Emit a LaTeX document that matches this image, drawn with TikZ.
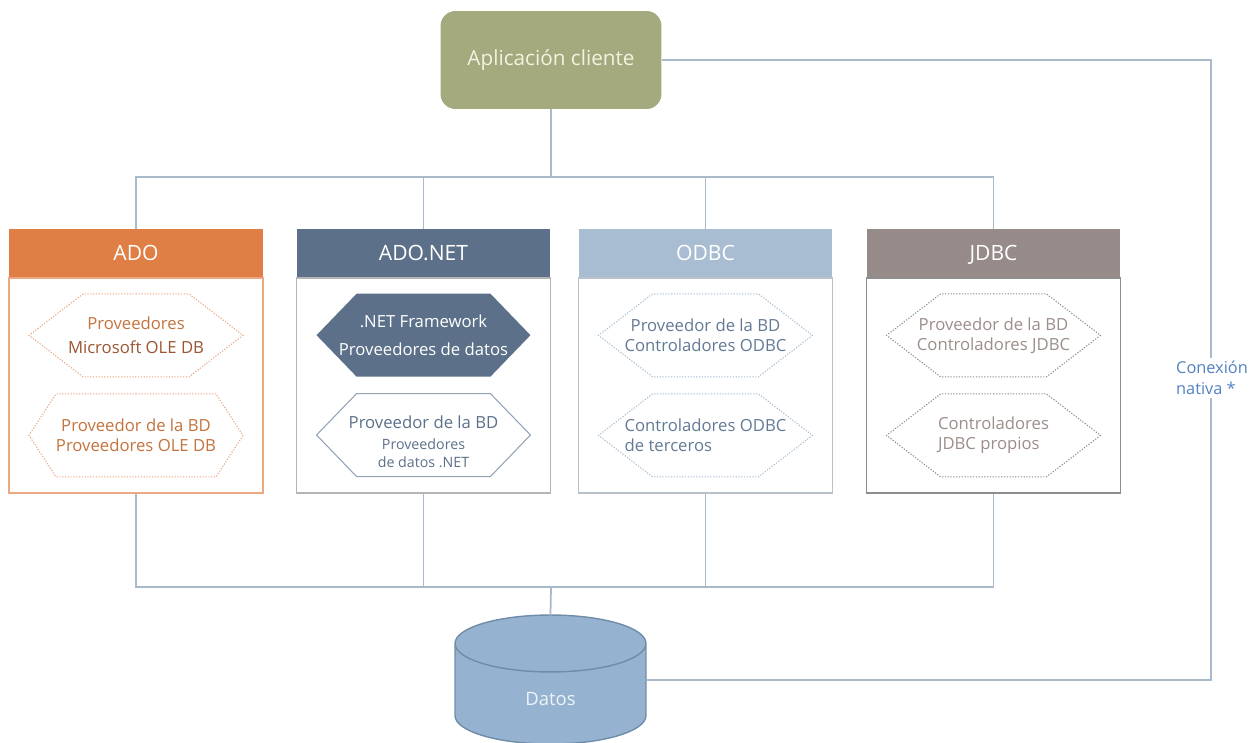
\documentclass[tikz,border=0pt]{standalone}
\usepackage{fontspec}
\setmainfont{Open Sans}
\usetikzlibrary{positioning,shapes.geometric,shapes.symbols}
\definecolor{appolive}{HTML}{A4A97E}
\definecolor{appcream}{HTML}{F6F2E0}
\definecolor{linkblue}{HTML}{A9BACB}
\definecolor{adoorange}{HTML}{E07F45}
\definecolor{adoline}{HTML}{EBA882}
\definecolor{adotext}{HTML}{C4733D}
\definecolor{adodark}{HTML}{9A5632}
\definecolor{netslate}{HTML}{5C7189}
\definecolor{netline}{HTML}{B4B4B4}
\definecolor{nethex}{HTML}{93A3B6}
\definecolor{odbcblue}{HTML}{A8BDD2}
\definecolor{odbcline}{HTML}{B9C1CA}
\definecolor{odbctext}{HTML}{647A94}
\definecolor{jdbcgray}{HTML}{968B89}
\definecolor{jdbcline}{HTML}{8E8E8E}
\definecolor{jdbctext}{HTML}{9C8E8A}
\definecolor{dbfill}{HTML}{95B3D0}
\definecolor{dbline}{HTML}{6F8CA8}
\definecolor{dbtext}{HTML}{EEF3F8}
\definecolor{nativeblue}{HTML}{5282C2}
\tikzset{
  link/.style={draw=linkblue,line width=1pt},
  appbox/.style={fill=appolive,rounded corners=0.3cm,minimum width=4.42cm,
                 minimum height=1.96cm,text=appcream,
                 font=\fontsize{11.8}{14}\selectfont},
  colhead/.style={minimum width=5.08cm,minimum height=0.96cm,inner sep=0pt,
                  text height=8.6pt,text depth=0pt,
                  text=white,font=\fontsize{12}{14}\selectfont},
  colbody/.style={fill=white,line width=0.8pt,minimum width=5.08cm,
                  minimum height=4.3cm,inner sep=0pt},
  hexbox/.style={signal,signal to=west and east,signal pointer angle=75,
                 minimum width=4.28cm,minimum height=1.66cm,inner ysep=0pt,
                 inner xsep=-24pt,align=center,
                 font=\fontsize{9.5}{11.4}\selectfont},
  dothex/.style={hexbox,line width=0.6pt,dash pattern=on 0.7pt off 0.9pt},
  database/.style={cylinder,shape border rotate=90,aspect=0.92,fill=dbfill,
                   draw=dbline,line width=0.8pt,minimum width=3.82cm,
                   minimum height=2.58cm,text=dbtext,
                   font=\fontsize{10.5}{12}\selectfont},
  nativelabel/.style={fill=white,align=left,text=nativeblue,inner sep=2pt,
                      font=\fontsize{9.3}{11.6}\selectfont}
}
\begin{document}
\begin{tikzpicture}[x=0.02cm,y=-0.02cm]
    \useasboundingbox (0,0) rectangle (1254,743);
    \node[appbox] (app) at (551,60) {Aplicación cliente};

    % columns
    \node[colhead,fill=adoorange] (ado) at (136,253) {ADO};
    \node[colbody,draw=adoline,below=0pt of ado] (adobox) {};
    \node[colhead,fill=netslate] (adonet) at (423.5,253) {ADO.NET};
    \node[colbody,draw=netline,below=0pt of adonet] (adonetbox) {};
    \node[colhead,fill=odbcblue] (odbc) at (705.5,253) {ODBC};
    \node[colbody,draw=odbcline,below=0pt of odbc] (odbcbox) {};
    \node[colhead,fill=jdbcgray] (jdbc) at (993.5,253) {JDBC};
    \node[colbody,draw=jdbcline,below=0pt of jdbc] (jdbcbox) {};

    \node[dothex,draw=adoline,text=adotext,below=0.32cm of ado] (adomsole)
      {Proveedores\\[2.6pt]\textcolor{adodark}{Microsoft OLE DB}};
    \node[dothex,draw=adoline,text=adotext,signal pointer angle=114,
          below=0.32cm of adomsole] (adooledb)
      {Proveedor de la BD\\Proveedores OLE DB};
    \node[hexbox,fill=netslate,text=white,signal pointer angle=92,
          below=0.32cm of adonet] (netfw)
      {.NET Framework\\[4.6pt]Proveedores de datos};
    \node[hexbox,draw=nethex,line width=0.6pt,text=netslate,
          signal pointer angle=92,below=0.32cm of netfw] (netdb)
      {\rule{0pt}{15pt}Proveedor de la BD\\{\fontsize{8.1}{10}\selectfont Proveedores}\\[-1pt]
       {\fontsize{8.1}{10}\selectfont de datos .NET}};
    \node[dothex,draw=odbcblue,text=odbctext,below=0.32cm of odbc] (odbcdb)
      {Proveedor de la BD\\Controladores ODBC};
    \node[dothex,draw=odbcblue,text=odbctext,align=left,
          below=0.32cm of odbcdb] (odbcext)
      {Controladores ODBC\\de terceros};
    \node[dothex,draw=jdbcline,text=jdbctext,below=0.32cm of jdbc] (jdbcdb)
      {Proveedor de la BD\\Controladores JDBC};
    \node[dothex,draw=jdbcline,text=jdbctext,align=left,
          below=0.32cm of jdbcdb] (jdbcown)
      {Controladores\\JDBC propios};

    \node[database] (datos) at (550.5,699) {Datos};

    % connectors
    \coordinate (topbus) at (551,177);
    \coordinate (botbus) at (551,587);
    \coordinate (nativecorner) at (1211,680);
    \draw[link] (app.south) -- (topbus);
    \draw[link] (ado.north) |- (topbus) -| (jdbc.north);
    \draw[link] (adonet.north) -- (adonet.north |- topbus);
    \draw[link] (odbc.north) -- (odbc.north |- topbus);
    \draw[link] (adobox.south) |- (botbus) -| (jdbcbox.south);
    \draw[link] (adonetbox.south) -- (adonetbox.south |- botbus);
    \draw[link] (odbcbox.south) -- (odbcbox.south |- botbus);
    \draw[link] (botbus) -- (datos.north);
    \draw[link] (app.east) -| (nativecorner) -- (datos.east |- nativecorner);
    \node[nativelabel] (nativa) at (1212,378) {Conexión\\nativa *};
\end{tikzpicture}
\end{document}
